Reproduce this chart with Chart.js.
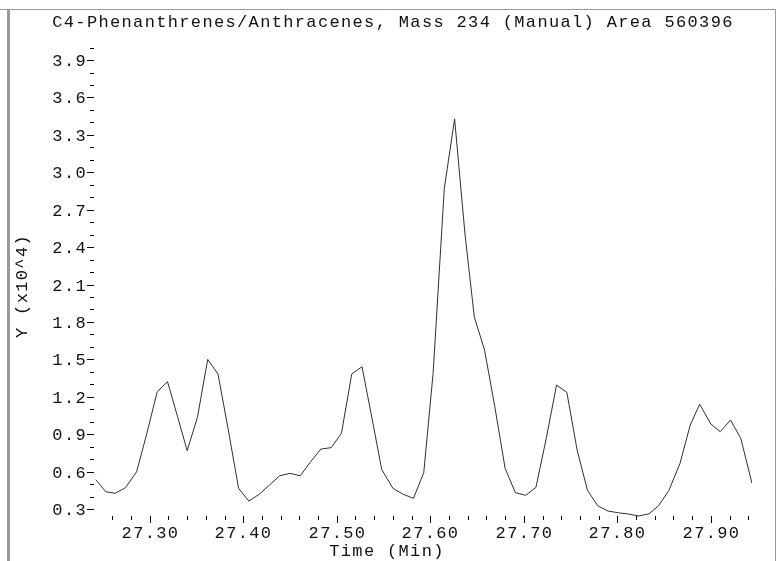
<!DOCTYPE html>
<html>
<head>
<meta charset="UTF-8">
<title>C4-Phenanthrenes/Anthracenes, Mass 234</title>
<script src="https://cdn.jsdelivr.net/npm/chart.js"></script>
<style>
  html, body { margin: 0; padding: 0; background: #fff; }
  #chart { display: block; }
</style>
</head>
<body>
<canvas id="chart" width="783" height="561"></canvas>
<script>
const chartTitle = 'C4-Phenanthrenes/Anthracenes, Mass 234 (Manual) Area 560396';
const xTitle = 'Time (Min)';
const yTitle = 'Y (x10^4)';

// retention time in minutes
const times = [
  27.242, 27.253, 27.263, 27.274, 27.286, 27.297, 27.308, 27.319, 27.330, 27.340,
  27.351, 27.362, 27.373, 27.384, 27.395, 27.406, 27.417, 27.428, 27.439, 27.450,
  27.461, 27.472, 27.483, 27.494, 27.505, 27.516, 27.527, 27.538, 27.548, 27.560,
  27.571, 27.582, 27.593, 27.603, 27.615, 27.626, 27.637, 27.647, 27.658, 27.669,
  27.680, 27.691, 27.702, 27.713, 27.724, 27.735, 27.746, 27.757, 27.768, 27.779,
  27.790, 27.801, 27.812, 27.823, 27.834, 27.844, 27.855, 27.867, 27.878, 27.888,
  27.900, 27.910, 27.921, 27.932, 27.944
];
// abundance, x10^4
const signal = [
  0.538, 0.439, 0.426, 0.471, 0.599, 0.909, 1.241, 1.321, 1.035, 0.768,
  1.035, 1.500, 1.383, 0.934, 0.466, 0.364, 0.418, 0.492, 0.567, 0.586,
  0.567, 0.679, 0.781, 0.792, 0.907, 1.383, 1.441, 1.014, 0.618, 0.466,
  0.418, 0.386, 0.591, 1.388, 2.872, 3.428, 2.513, 1.842, 1.575, 1.120,
  0.626, 0.431, 0.410, 0.474, 0.867, 1.294, 1.236, 0.773, 0.452, 0.326,
  0.284, 0.270, 0.260, 0.244, 0.262, 0.326, 0.447, 0.666, 0.974, 1.140,
  0.982, 0.920, 1.014, 0.867, 0.506
];

const xTickLabels = ['27.30', '27.40', '27.50', '27.60', '27.70', '27.80', '27.90'];
const yTickLabels = ['0.3', '0.6', '0.9', '1.2', '1.5', '1.8', '2.1', '2.4', '2.7', '3.0', '3.3', '3.6', '3.9'];

const FONT = '17px "Liberation Mono"';

function setFont(ctx) {
  ctx.font = FONT;
  ctx.fillStyle = '#111';
  if ('letterSpacing' in ctx) ctx.letterSpacing = '1.35px';
}

const decor = {
  id: 'decor',
  afterDraw(chart) {
    const { ctx, scales: { x, y } } = chart;
    ctx.save();

    // frame
    ctx.strokeStyle = '#9a9a9a';
    ctx.lineWidth = 1;
    ctx.beginPath();
    ctx.moveTo(0, 9.5); ctx.lineTo(775.5, 9.5);
    ctx.moveTo(775.5, 9.5); ctx.lineTo(775.5, 561);
    ctx.stroke();
    ctx.lineWidth = 3;
    ctx.beginPath();
    ctx.moveTo(8.5, 9); ctx.lineTo(8.5, 561);
    ctx.stroke();

    // y ticks, every 0.1, labelled every 0.3
    ctx.strokeStyle = '#000';
    ctx.lineWidth = 1;
    setFont(ctx);
    ctx.textAlign = 'right';
    ctx.textBaseline = 'middle';
    for (let i = 3; i <= 40; i++) {
      const v = i / 10;
      const py = Math.round(y.getPixelForValue(v)) + 0.5;
      const lbl = v.toFixed(1);
      const major = yTickLabels.includes(lbl);
      ctx.beginPath();
      ctx.moveTo(major ? 87 : 90, py);
      ctx.lineTo(94, py);
      ctx.stroke();
      if (major) ctx.fillText(lbl, 87, py + 1);
    }

    // x ticks, every 0.02 min, labelled every 0.1
    ctx.textAlign = 'center';
    for (let i = 1363; i <= 1397; i++) {
      const t = i * 0.02;
      const px = Math.round(x.getPixelForValue(t)) + 0.5;
      const lbl = t.toFixed(2);
      const major = xTickLabels.includes(lbl);
      ctx.beginPath();
      ctx.moveTo(px, 516);
      ctx.lineTo(px, major ? 523 : 520);
      ctx.stroke();
      if (major) ctx.fillText(lbl, px, 533);
    }

    // titles
    ctx.fillText(chartTitle, 393, 22);
    ctx.fillText(xTitle, 387, 551);
    ctx.translate(22, 286);
    ctx.rotate(-Math.PI / 2);
    ctx.fillText(yTitle, 0, 0);

    ctx.restore();
  }
};

new Chart(document.getElementById('chart'), {
  type: 'line',
  data: {
    datasets: [{
      data: times.map((t, i) => ({ x: t, y: signal[i] })),
      borderColor: '#303030',
      borderWidth: 1,
      pointRadius: 0,
      tension: 0,
      fill: false
    }]
  },
  options: {
    responsive: false,
    animation: false,
    events: [],
    layout: { padding: { left: 95.5, right: 31, top: 47.6, bottom: 39.5 } },
    scales: {
      x: { type: 'linear', display: false, min: 27.242, max: 27.944 },
      y: { type: 'linear', display: false, min: 0.2, max: 4.0 }
    },
    plugins: { legend: { display: false }, tooltip: { enabled: false } }
  },
  plugins: [decor]
});
</script>
</body>
</html>
